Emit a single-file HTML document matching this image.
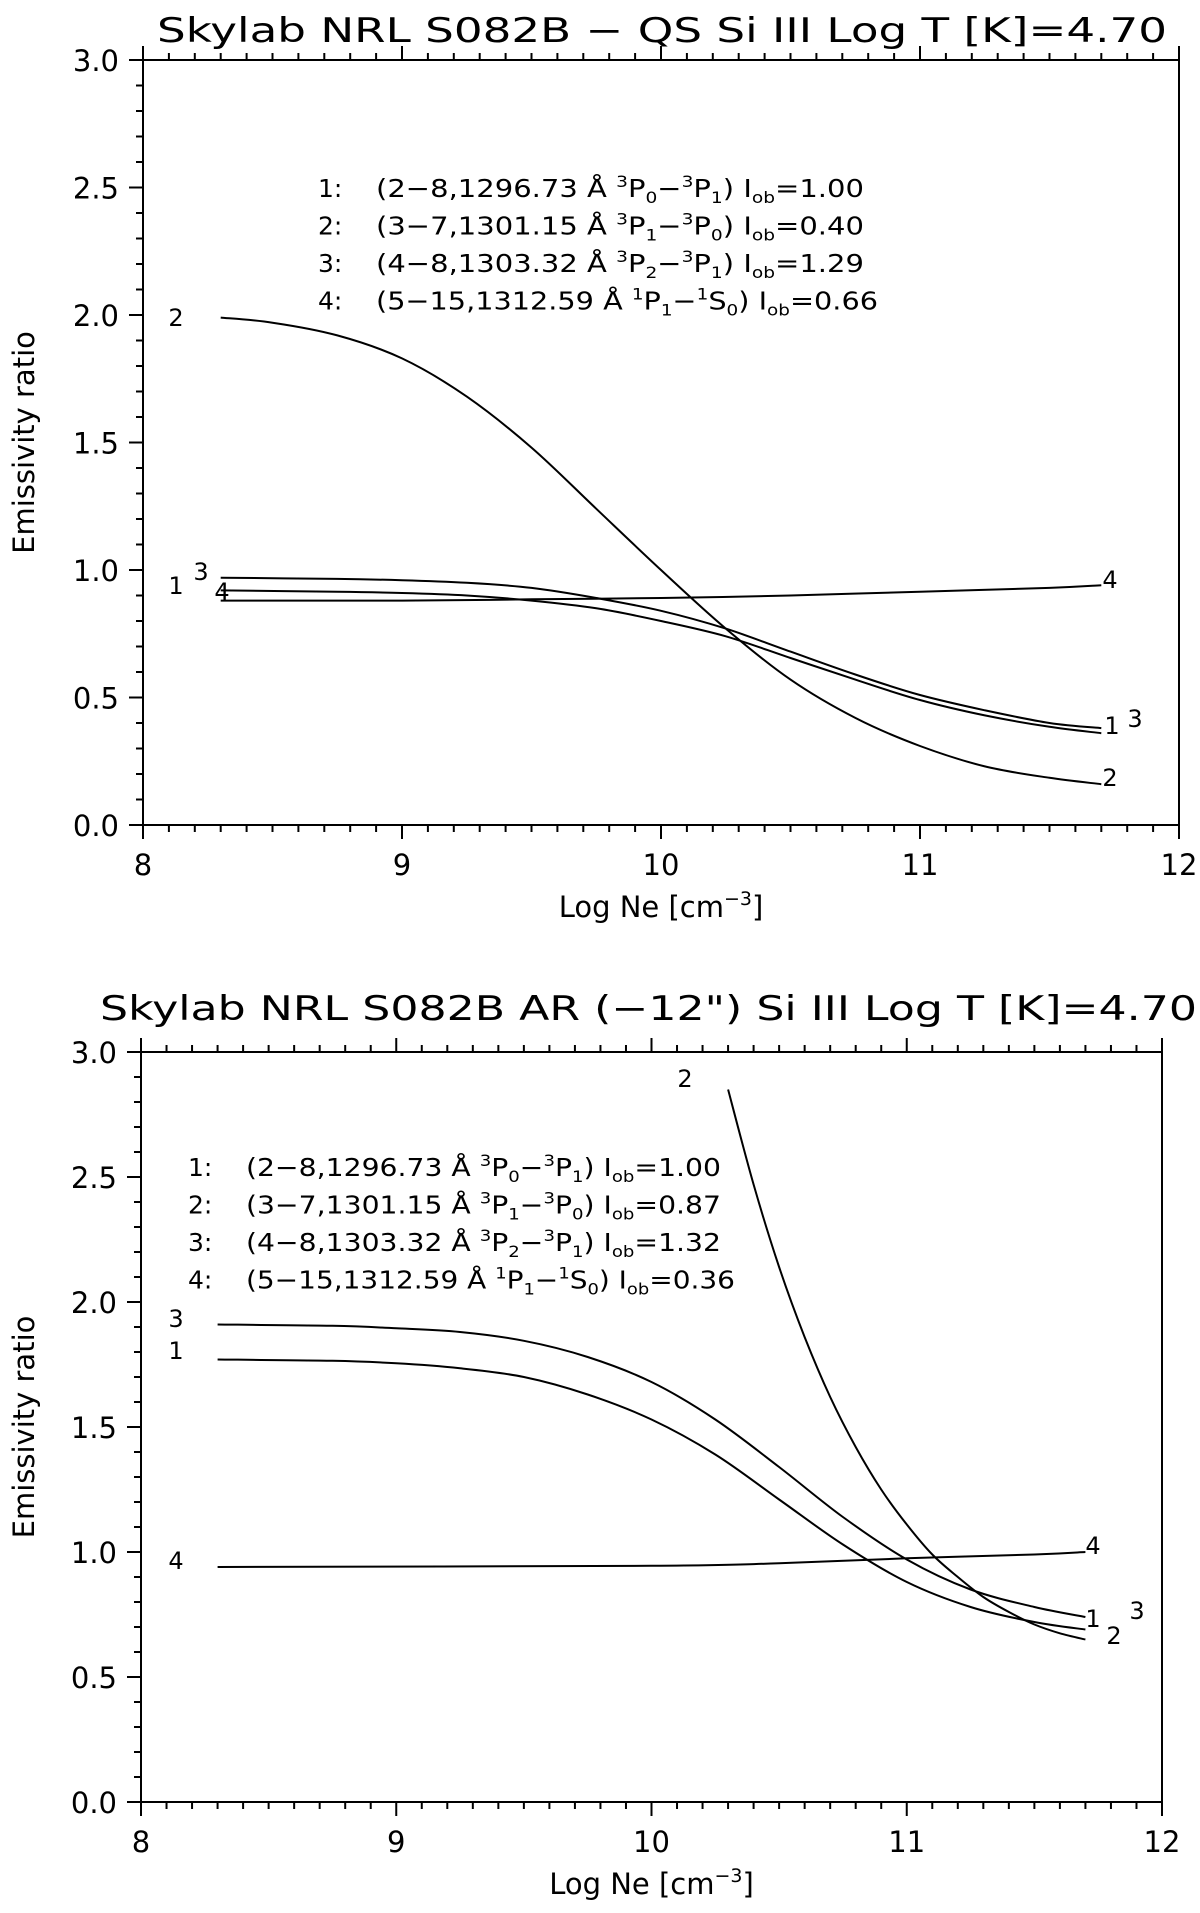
<!DOCTYPE html>
<html><head><meta charset="utf-8"><style>
body{margin:0;background:#fff}
svg{display:block}
text{font-family:"DejaVu Sans","Liberation Sans",sans-serif;fill:#000}
</style></head><body>
<svg id="svg" width="1200" height="1913" viewBox="0 0 1200 1913" xmlns="http://www.w3.org/2000/svg">
<g id="top"></g>
<g id="bot"></g>
</svg>
<script>
// ---- Data: top chart (QS) ----
const xTicks = [8, 9, 10, 11, 12];
const yTicks = [0.0, 0.5, 1.0, 1.5, 2.0, 2.5, 3.0];
const qsX1 = [8.3, 8.75, 9, 9.25, 9.5, 9.75, 10, 10.25, 10.5, 10.75, 11, 11.25, 11.5, 11.7];
const qsY1 = [0.92, 0.915, 0.91, 0.90, 0.88, 0.85, 0.80, 0.74, 0.655, 0.57, 0.49, 0.43, 0.385, 0.36];
const qsX2 = [8.3, 8.5, 8.75, 9, 9.25, 9.5, 9.75, 10, 10.25, 10.5, 10.75, 11, 11.25, 11.5, 11.7];
const qsY2 = [1.99, 1.97, 1.92, 1.83, 1.68, 1.48, 1.24, 1.00, 0.77, 0.57, 0.42, 0.31, 0.23, 0.185, 0.16];
const qsX3 = [8.3, 8.75, 9, 9.25, 9.5, 9.75, 10, 10.25, 10.5, 10.75, 11, 11.25, 11.5, 11.7];
const qsY3 = [0.97, 0.965, 0.96, 0.95, 0.93, 0.89, 0.84, 0.77, 0.68, 0.59, 0.51, 0.45, 0.40, 0.38];
const qsX4 = [8.3, 9, 9.5, 10, 10.5, 11, 11.5, 11.7];
const qsY4 = [0.88, 0.88, 0.885, 0.89, 0.90, 0.915, 0.93, 0.94];
const qsLegend = [
 ["1:", "(2\u22128,1296.73 \u00C5 ", "3","P","0","\u2212","3","P","1", ") I", "ob", "=1.00"],
 ["2:", "(3\u22127,1301.15 \u00C5 ", "3","P","1","\u2212","3","P","0", ") I", "ob", "=0.40"],
 ["3:", "(4\u22128,1303.32 \u00C5 ", "3","P","2","\u2212","3","P","1", ") I", "ob", "=1.29"],
 ["4:", "(5\u221215,1312.59 \u00C5 ", "1","P","1","\u2212","1","S","0", ") I", "ob", "=0.66"]];
// ---- Data: bottom chart (AR) ----
const arX1 = [8.3, 8.75, 9, 9.25, 9.5, 9.75, 10, 10.25, 10.5, 10.75, 11, 11.25, 11.5, 11.7];
const arY1 = [1.77, 1.765, 1.755, 1.735, 1.70, 1.63, 1.53, 1.39, 1.21, 1.03, 0.88, 0.78, 0.72, 0.69];
const arX2 = [10.3, 10.4, 10.5, 10.6, 10.7, 10.8, 10.9, 11.0, 11.1, 11.2, 11.3, 11.4, 11.5, 11.6, 11.7];
const arY2 = [2.85, 2.47, 2.14, 1.86, 1.62, 1.42, 1.25, 1.11, 0.99, 0.90, 0.82, 0.76, 0.71, 0.675, 0.65];
const arX3 = [8.3, 8.75, 9, 9.25, 9.5, 9.75, 10, 10.25, 10.5, 10.75, 11, 11.25, 11.5, 11.7];
const arY3 = [1.91, 1.905, 1.895, 1.88, 1.845, 1.78, 1.68, 1.53, 1.34, 1.14, 0.97, 0.85, 0.78, 0.74];
const arX4 = [8.3, 10, 10.5, 11, 11.5, 11.7];
const arY4 = [0.94, 0.945, 0.955, 0.975, 0.99, 1.0];
const arLegend = [
 ["1:", "(2\u22128,1296.73 \u00C5 ", "3","P","0","\u2212","3","P","1", ") I", "ob", "=1.00"],
 ["2:", "(3\u22127,1301.15 \u00C5 ", "3","P","1","\u2212","3","P","0", ") I", "ob", "=0.87"],
 ["3:", "(4\u22128,1303.32 \u00C5 ", "3","P","2","\u2212","3","P","1", ") I", "ob", "=1.32"],
 ["4:", "(5\u221215,1312.59 \u00C5 ", "1","P","1","\u2212","1","S","0", ") I", "ob", "=0.36"]];

const NS = "http://www.w3.org/2000/svg";
function mk(parent, tag, attrs, txt){
  const e = document.createElementNS(NS, tag);
  for (const k in attrs) e.setAttribute(k, attrs[k]);
  if (txt !== undefined) e.textContent = txt;
  parent.appendChild(e); return e;
}
function smooth(pts){
  let d = "M" + pts[0][0].toFixed(1) + "," + pts[0][1].toFixed(1);
  for (let i = 0; i < pts.length - 1; i++){
    const p0 = pts[Math.max(0,i-1)], p1 = pts[i], p2 = pts[i+1], p3 = pts[Math.min(pts.length-1,i+2)];
    const c1x = p1[0] + (p2[0]-p0[0])/6, c1y = p1[1] + (p2[1]-p0[1])/6;
    const c2x = p2[0] - (p3[0]-p1[0])/6, c2y = p2[1] - (p3[1]-p1[1])/6;
    d += " C" + c1x.toFixed(1) + "," + c1y.toFixed(1) + " " + c2x.toFixed(1) + "," + c2y.toFixed(1) + " " + p2[0].toFixed(1) + "," + p2[1].toFixed(1);
  }
  return d;
}
function chart(g, cfg){
  const {L, R, T, B} = cfg;
  const sx = v => L + (v - 8) / 4 * (R - L);
  const sy = v => B - v / 3 * (B - T);
  let e;
  e = mk(g, "text", {x: cfg.titleX, y: cfg.titleY, "font-size": 34, textLength: cfg.titleW, lengthAdjust: "spacingAndGlyphs"}, cfg.title);
  
  
  e = mk(g, "rect", {x: L, y: T, width: R - L, height: B - T, fill: "none", stroke: "#000", "stroke-width": 2});
  
  
  for (let v = 8; v <= 12.0001; v += 0.1){
    const major = Math.abs(v - Math.round(v)) < 1e-6;
    const len = major ? 14 : 7, x = sx(v);
    mk(g, "line", {x1: x, x2: x, y1: B, y2: B + len, stroke: "#000", "stroke-width": 2});
    mk(g, "line", {x1: x, x2: x, y1: T, y2: T - len, stroke: "#000", "stroke-width": 2});
  }
  for (let v = 0; v <= 3.0001; v += 0.1){
    const major = Math.abs(v*2 - Math.round(v*2)) < 1e-6;
    const len = major ? 14 : 7, y = sy(v);
    mk(g, "line", {x1: L, x2: L - len, y1: y, y2: y, stroke: "#000", "stroke-width": 2});
  }
  xTicks.forEach(v => {
    e = mk(g, "text", {x: sx(v), y: B + 50, "font-size": 29, "text-anchor": "middle"}, String(v));
    
    
  });
  yTicks.forEach(v => {
    e = mk(g, "text", {x: L - 24, y: sy(v) + 11, "font-size": 29, "text-anchor": "end"}, v.toFixed(1));
    
    
  });
  e = mk(g, "text", {x: 0, y: 0, "font-size": 29, "text-anchor": "middle", transform: "translate(34," + ((T+B)/2) + ") rotate(-90)"}, "Emissivity ratio");
  
  
  const xt = mk(g, "text", {x: (L+R)/2, y: B + 92, "font-size": 29, "text-anchor": "middle"});
  
  
  mk(xt, "tspan", {}, "Log Ne [cm");
  mk(xt, "tspan", {dy: -12, "font-size": 19}, "\u22123");
  mk(xt, "tspan", {dy: 12}, "]");
  cfg.series.forEach((s, i) => {
    const pts = s.x.map((xv, j) => [sx(xv), sy(s.y[j])]);
    e = mk(g, "path", {d: smooth(pts), fill: "none", stroke: "#000", "stroke-width": 2});
    
    
  });
  cfg.labels.forEach(l => {
    e = mk(g, "text", {x: l[1], y: l[2], "font-size": 24, "text-anchor": "middle"}, l[0]);
    
    
  });
  cfg.legend.forEach((row, i) => {
    const y = cfg.legY + i * 37.5;
    e = mk(g, "text", {x: cfg.legX, y: y, "font-size": 25}, row[0]);
    
    
    const t = mk(g, "text", {x: cfg.legX2, y: y, "font-size": 25, textLength: cfg.legW[i], lengthAdjust: "spacingAndGlyphs"});
    
    
    mk(t, "tspan", {}, row[1]);
    mk(t, "tspan", {dy: -10, "font-size": 16}, row[2]);
    mk(t, "tspan", {dy: 10}, row[3]);
    mk(t, "tspan", {dy: 6, "font-size": 16}, row[4]);
    mk(t, "tspan", {dy: -6}, row[5]);
    mk(t, "tspan", {dy: -10, "font-size": 16}, row[6]);
    mk(t, "tspan", {dy: 10}, row[7]);
    mk(t, "tspan", {dy: 6, "font-size": 16}, row[8]);
    mk(t, "tspan", {dy: -6}, row[9]);
    mk(t, "tspan", {dy: 6, "font-size": 16}, row[10]);
    mk(t, "tspan", {dy: -6}, row[11]);
  });
}
chart(document.getElementById("top"), {
  L: 143, R: 1179, T: 60, B: 825,
  title: "Skylab NRL S082B \u2212 QS Si III  Log T [K]=4.70", titleX: 157, titleY: 42, titleW: 1010,
  series: [{x: qsX1, y: qsY1}, {x: qsX2, y: qsY2}, {x: qsX3, y: qsY3}, {x: qsX4, y: qsY4}],
  labels: [["2",176,326],["1",176,594],["3",201,580],["4",222,600],["4",1110,588],["1",1112,734],["3",1135,727],["2",1110,786]],
  legend: qsLegend, legX: 318, legX2: 376, legY: 197, legW: [488, 488, 488, 502]
});
chart(document.getElementById("bot"), {
  L: 141, R: 1162, T: 1052, B: 1802,
  title: "Skylab NRL S082B AR (\u221212\") Si III  Log T [K]=4.70", titleX: 100, titleY: 1020, titleW: 1097,
  series: [{x: arX1, y: arY1}, {x: arX2, y: arY2}, {x: arX3, y: arY3}, {x: arX4, y: arY4}],
  labels: [["2",685,1087],["3",176,1327],["1",176,1359],["4",176,1569],["4",1093,1554],["1",1093,1627],["2",1114,1644],["3",1137,1619]],
  legend: arLegend, legX: 188, legX2: 246, legY: 1176, legW: [475, 475, 475, 489]
});
</script>
</body></html>
